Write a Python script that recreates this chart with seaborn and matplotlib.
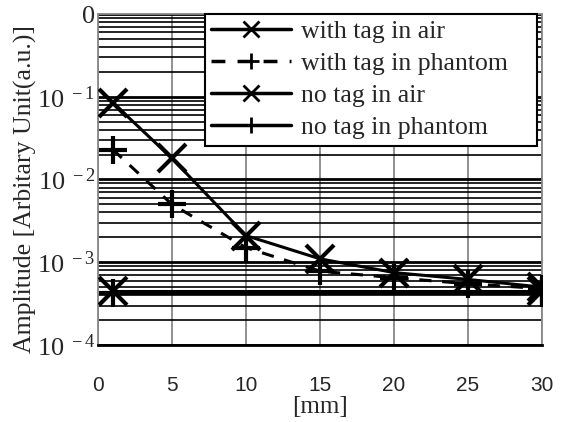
import numpy as np
import pandas as pd
import matplotlib
matplotlib.use("Agg")
import matplotlib.pyplot as plt
import seaborn as sns
from matplotlib.ticker import LogLocator, NullFormatter, FixedLocator

# distance [mm]
distance = [1, 5, 10, 15, 20, 25, 30]
with_tag_air = [0.085, 0.018, 0.0021, 0.0011, 0.00075, 0.00062, 0.0005]
with_tag_phantom = [0.023, 0.005, 0.0015, 0.00078, 0.00065, 0.00055, 0.00048]
# baseline measurements (no tag) only at the two ends
no_tag_distance = [1, 30]
no_tag_air = [0.00045, 0.00045]
no_tag_phantom = [0.00043, 0.00043]

series_names = ["with tag in air", "with tag in phantom", "no tag in air", "no tag in phantom"]
ytick_vals = [1e-4, 1e-3, 1e-2, 1e-1, 1e0]
ytick_labels = [r"10$^{\ -4}$", r"10$^{\ -3}$", r"10$^{\ -2}$", r"10$^{\ -1}$", "0"]
xtick_vals = [0, 5, 10, 15, 20, 25, 30]

df = pd.concat([
    pd.DataFrame({"x": distance, "y": with_tag_air, "series": series_names[0]}),
    pd.DataFrame({"x": distance, "y": with_tag_phantom, "series": series_names[1]}),
    pd.DataFrame({"x": no_tag_distance, "y": no_tag_air, "series": series_names[2]}),
    pd.DataFrame({"x": no_tag_distance, "y": no_tag_phantom, "series": series_names[3]}),
])

sns.set_style("white")
plt.rcParams["font.family"] = ["Liberation Serif", "DejaVu Serif"]
plt.rcParams["mathtext.fontset"] = "custom"
plt.rcParams["mathtext.rm"] = "Liberation Serif"
plt.rcParams["mathtext.it"] = "Liberation Serif"

fig = plt.figure(figsize=(5.61, 4.22), dpi=100)
ax = fig.add_axes([0.1747, 0.1825, 0.7913, 0.7843])

sns.lineplot(
    data=df, x="x", y="y", hue="series", style="series",
    hue_order=series_names, style_order=series_names,
    palette=["black"] * 4,
    markers={"with tag in air": "x", "with tag in phantom": "+",
             "no tag in air": "x", "no tag in phantom": "+"},
    dashes={"with tag in air": "", "with tag in phantom": (4, 3.5),
            "no tag in air": "", "no tag in phantom": ""},
    markersize=20, markeredgewidth=3, markeredgecolor="black", linewidth=2.2,
    ax=ax, zorder=5,
)

ax.set_yscale("log")
ax.set_ylim(1e-4, 1)
ax.set_xlim(0, 30)
ax.yaxis.set_major_locator(FixedLocator(ytick_vals))
ax.set_yticklabels(ytick_labels, fontsize=19)
ax.yaxis.set_minor_locator(LogLocator(base=10, subs=np.arange(2, 10)))
ax.yaxis.set_minor_formatter(NullFormatter())
ax.set_xticks(xtick_vals)
ax.set_xticklabels([str(v) for v in xtick_vals], fontsize=15, family="Liberation Sans")

ax.grid(axis="x", color="#888888", linewidth=1.3)
ax.grid(axis="y", which="major", color="black", linewidth=2.0)
ax.grid(axis="y", which="minor", color="black", linewidth=1.2)
ax.tick_params(axis="both", which="both", length=0)
ax.tick_params(axis="y", pad=2)
ax.tick_params(axis="x", pad=22)

for side in ["left", "right", "top"]:
    ax.spines[side].set_color("#888888")
    ax.spines[side].set_linewidth(1.3)
ax.spines["bottom"].set_color("black")
ax.spines["bottom"].set_linewidth(2)

ax.set_xlabel("[mm]", fontsize=18, labelpad=1)
ax.set_ylabel("Amplitude [Arbitary Unit(a.u.)]", fontsize=18.5)
ax.yaxis.set_label_coords(-0.137, 0.47)

leg = ax.legend(loc="upper left", bbox_to_anchor=(0.241, 0.0, 0.748, 1.0),
                mode="expand", fontsize=18.5,
                frameon=True, fancybox=False, framealpha=1, borderaxespad=0,
                handlelength=3.1, handletextpad=0.4, labelspacing=0.35,
                borderpad=0.25)
leg.get_frame().set_edgecolor("black")
leg.get_frame().set_linewidth(1.5)
leg.set_zorder(10)
for h in leg.legend_handles:
    h.set_markersize(11)
    h.set_markeredgewidth(2)
    h.set_markeredgecolor("black")
    h.set_linewidth(2.5)

fig.savefig("out.png", dpi=100)
